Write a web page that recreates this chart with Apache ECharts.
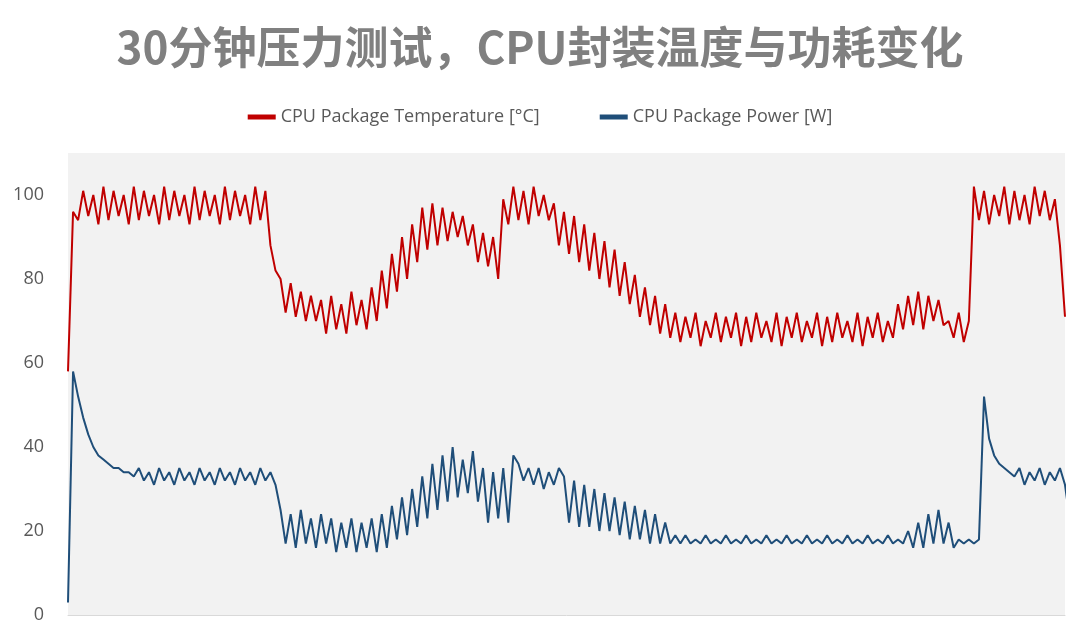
<!DOCTYPE html>
<html><head><meta charset="utf-8">
<script src="https://cdn.jsdelivr.net/npm/echarts@6/dist/echarts.min.js"></script>
<style>html,body{margin:0;padding:0;background:#fff}#c{width:1080px;height:639px}</style>
</head><body><div id="c"></div>
<script>
const temperature = [58,96,
94,101,95,100,93,102,94,101,95,100,93,102,94,101,95,100,93,102,94,101,95,100,93,102,94,101,95,100,93,102,94,101,95,100,93,102,94,101,
88,82,80,72,79,71,77,70,76,70,
75,67,76,68,74,67,77,69,75,68,
78,70,82,73,86,77,90,80,93,84,97,87,98,88,
97,89,96,90,95,88,
93,84,91,83,90,80,
99,93,102,94,101,93,102,95,100,94,
98,88,96,86,95,84,93,82,91,80,89,78,87,76,84,74,81,71,78,69,76,67,74,66,
72,65,71,66,72,64,70,66,72,65,71,66,72,64,71,65,72,66,70,65,72,64,71,66,72,65,70,66,72,64,71,65,72,66,70,65,72,64,71,66,72,65,70,66,
74,68,76,69,77,68,76,70,75,69,
70,66,72,65,70,
102,94,101,93,100,95,102,93,101,94,100,93,102,95,101,94,99,
88,71];
const power = [3,58,
52,47,43,40,38,37,36,35,35,34,34,33,
35,32,34,31,35,32,34,31,35,32,34,31,35,32,34,31,35,32,34,31,35,32,34,31,35,32,34,31,
25,17,24,16,25,17,23,16,24,17,
23,15,22,16,23,15,22,16,23,15,
24,16,26,18,28,19,30,21,33,23,36,25,38,27,
40,28,37,29,39,27,
35,22,34,23,35,22,
38,36,32,35,31,35,30,34,31,35,
33,22,32,21,31,21,30,20,29,20,28,19,27,18,26,18,25,17,24,17,22,17,19,17,
19,17,18,17,19,17,18,17,19,17,18,17,19,17,18,17,19,17,18,17,19,17,18,17,19,17,18,17,19,17,18,17,19,17,18,17,19,17,18,17,19,17,18,17,
20,16,22,16,24,17,25,17,22,16,
18,17,18,17,18,
52,42,38,36,35,34,33,35,31,34,32,35,31,34,32,35,31,
22,3];
const categories = temperature.map((_, i) => i);
const seriesNames = ['CPU Package Temperature [°C]', 'CPU Package Power [W]'];
const chart = echarts.init(document.getElementById('c'));
chart.setOption({
  backgroundColor:'#fff',
  title:{text:'30分钟压力测试，CPU封装温度与功耗变化',left:'center',top:20,
    textStyle:{fontSize:44,fontWeight:'bold',color:'#808080',fontFamily:'Noto Sans CJK SC'}},
  legend:{top:103,left:'center',itemGap:60,itemWidth:28,itemHeight:5,icon:'rect',
    textStyle:{fontSize:18,color:'#595959',fontFamily:'Open Sans'},
    data:seriesNames},
  grid:{left:68,right:15,top:153,bottom:24,show:true,backgroundColor:'#f2f2f2',borderWidth:0},
  xAxis:{type:'category',data:categories,boundaryGap:false,
    axisLine:{lineStyle:{color:'#d9d9d9'}},axisTick:{show:false},axisLabel:{show:false}},
  yAxis:{type:'value',min:0,max:110,interval:20,
    axisLine:{show:false},axisTick:{show:false},splitLine:{show:false},
    axisLabel:{fontSize:18,color:'#595959',margin:24,fontFamily:'Open Sans',
      formatter:v=>v>100?'':v}},
  series:[
    {name:seriesNames[0],type:'line',data:temperature,symbol:'none',color:'#c00000',
     lineStyle:{width:2,color:'#c00000'}},
    {name:seriesNames[1],type:'line',data:power,symbol:'none',color:'#1f4e79',
     lineStyle:{width:2,color:'#1f4e79'}}
  ]
});
</script></body></html>
